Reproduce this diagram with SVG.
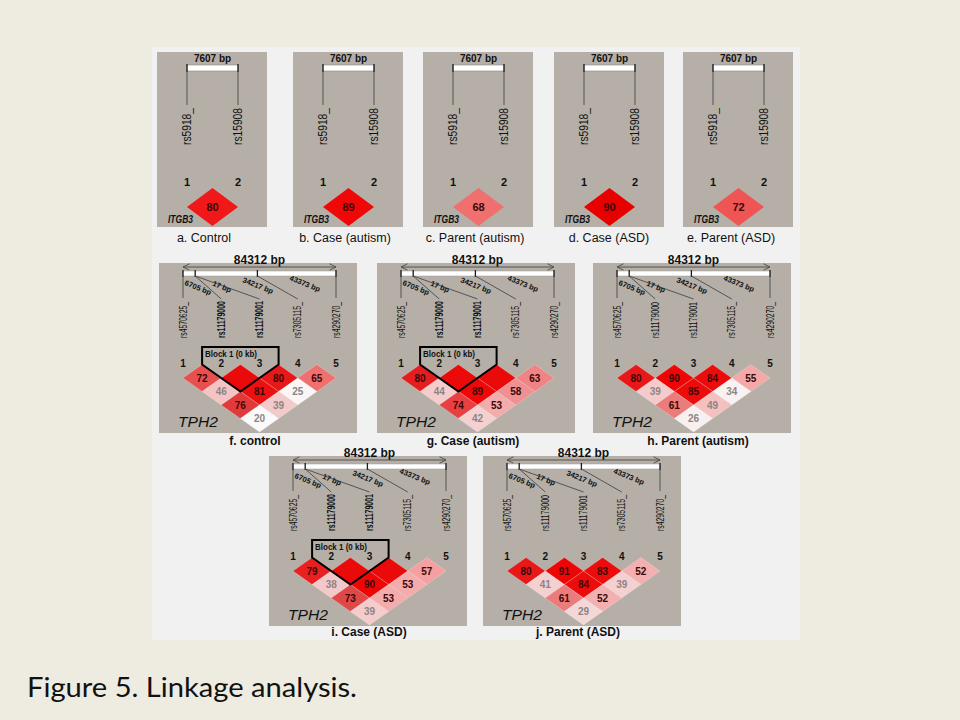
<svg xmlns="http://www.w3.org/2000/svg" xmlns:xlink="http://www.w3.org/1999/xlink" width="960" height="720" viewBox="0 0 960 720">
<style>
.pan{fill:#B5AFA7}
.t{font-family:"Liberation Sans",Arial,sans-serif;fill:#111}
.lb1{font-size:12.5px;text-anchor:middle}
.lb2{font-size:12px;font-weight:bold;text-anchor:middle}
.bp{font-size:10px;font-weight:bold;text-anchor:middle}
.bp2{font-size:12px;font-weight:bold;text-anchor:middle}
.rs{font-size:12px}
.rs2{font-size:10px}
.b{font-weight:bold}
.num{font-size:11px;font-weight:bold;text-anchor:middle}
.num2{font-size:10px;font-weight:bold;text-anchor:middle}
.v{font-size:10px;font-weight:bold;text-anchor:middle}
.v1{font-size:11px;font-weight:bold;text-anchor:middle}
.vd{fill:#3a0808}
.vl{fill:#8c8484}
.dist{font-size:7.5px;font-weight:bold;text-anchor:middle}
.gene{font-style:italic}
.ln{stroke:#4a4a4a;stroke-width:0.9;fill:none}
.tick{stroke:#1a1a1a;stroke-width:1.3}
.blk{fill:none;stroke:#000;stroke-width:2;stroke-linejoin:miter}
.dm{stroke:#ffffff;stroke-opacity:0.35;stroke-width:0.6}
</style>
<defs>
<path id="dm" d="M-19.125 0L0 -13.5L19.125 0L0 13.5Z"/>
<g id="itgbase">
<rect class="pan" width="110" height="175"/>
<text class="t bp" x="55.5" y="10">7607 bp</text>
<rect x="30" y="13" width="51" height="6" fill="#fff" stroke="#888" stroke-width="0.6"/>
<path d="M30 12V20M81 12V20" class="tick" stroke-width="1.6"/>
<path d="M30 20V53M81 20V53" class="ln"/>
<text transform="translate(34.3,93) rotate(-90)" class="t rs" textLength="37" lengthAdjust="spacingAndGlyphs">rs5918_</text>
<text transform="translate(85.3,93) rotate(-90)" class="t rs" textLength="37" lengthAdjust="spacingAndGlyphs">rs15908</text>
<text class="t num" x="30" y="134">1</text>
<text class="t num" x="81" y="134">2</text>
<text class="t gene b" x="11" y="171" font-size="10" textLength="25" lengthAdjust="spacingAndGlyphs">ITGB3</text>
</g>
<g id="tphbase">
<rect class="pan" width="198" height="170"/>
<text class="t bp2" x="100.5" y="1">84312 bp</text>
<path d="M24 4H177M30.5 0.8L24 4L30.5 7.2M170.5 0.8L177 4L170.5 7.2" class="ln" stroke="#333"/>
<rect x="24" y="8" width="153" height="5" fill="#fff" stroke="#9a9a9a" stroke-width="0.5"/>
<path d="M24 7V14M36.2 7V14M98.4 7V14M177 7V14" class="tick"/>
<path d="M24 13V35M36.2 13L62.25 36M36.2 13L100.5 36M98.4 13L138.75 36M177 13V35" class="ln"/>
<text class="t dist" transform="translate(38,27) rotate(22)">6705 bp</text>
<text class="t dist" transform="translate(62,26) rotate(22)">17 bp</text>
<text class="t dist" transform="translate(98,25) rotate(22)">34217 bp</text>
<text class="t dist" transform="translate(145,23) rotate(22)">43373 bp</text>
<text class="t num2" x="24" y="104">1</text>
<text class="t num2" x="62.25" y="104">2</text>
<text class="t num2" x="100.5" y="104">3</text>
<text class="t num2" x="138.75" y="104">4</text>
<text class="t num2" x="177" y="104">5</text>
<text class="t gene" x="19" y="164" font-size="15" textLength="40" lengthAdjust="spacingAndGlyphs">TPH2</text>
</g>
<g id="rsbold">
<text transform="translate(27.6,75) rotate(-90)" class="t rs2" textLength="36" lengthAdjust="spacingAndGlyphs">rs4570625_</text>
<text transform="translate(65.85,75) rotate(-90)" class="t rs2 b" textLength="37" lengthAdjust="spacingAndGlyphs">rs11179000</text>
<text transform="translate(104.1,75) rotate(-90)" class="t rs2 b" textLength="37" lengthAdjust="spacingAndGlyphs">rs11179001</text>
<text transform="translate(142.35,75) rotate(-90)" class="t rs2" textLength="36" lengthAdjust="spacingAndGlyphs">rs7305115_</text>
<text transform="translate(180.6,75) rotate(-90)" class="t rs2" textLength="36" lengthAdjust="spacingAndGlyphs">rs4290270_</text>
</g>
<g id="rsplain">
<text transform="translate(27.6,75) rotate(-90)" class="t rs2" textLength="36" lengthAdjust="spacingAndGlyphs">rs4570625_</text>
<text transform="translate(65.85,75) rotate(-90)" class="t rs2" textLength="36" lengthAdjust="spacingAndGlyphs">rs11179000</text>
<text transform="translate(104.1,75) rotate(-90)" class="t rs2" textLength="36" lengthAdjust="spacingAndGlyphs">rs11179001</text>
<text transform="translate(142.35,75) rotate(-90)" class="t rs2" textLength="36" lengthAdjust="spacingAndGlyphs">rs7305115_</text>
<text transform="translate(180.6,75) rotate(-90)" class="t rs2" textLength="36" lengthAdjust="spacingAndGlyphs">rs4290270_</text>
</g>
<g id="block">
<path class="blk" d="M43.1 101.5V84H119.6V101.5L81.4 128.5Z"/>
<text class="t b" x="46" y="93.5" font-size="9.5" textLength="52" lengthAdjust="spacingAndGlyphs">Block 1 (0 kb)</text>
</g>
</defs>

<rect width="960" height="720" fill="#EEEBE1"/>
<rect x="152" y="47" width="648" height="593" fill="#F1F1F1"/>

<!-- ITGB3 panels -->
<g id="panel-a" transform="translate(157,52)">
<use xlink:href="#itgbase"/>
<path d="M30 155L55.5 136L81 155L55.5 174Z" fill="#F01818"/>
<text class="t v1 vd" x="55.5" y="159">80</text>
<text class="t lb1" x="47" y="190">a. Control</text>
</g>
<g id="panel-b" transform="translate(293,52)">
<use xlink:href="#itgbase"/>
<path d="M30 155L55.5 136L81 155L55.5 174Z" fill="#F00808"/>
<text class="t v1 vd" x="55.5" y="159">89</text>
<text class="t lb1" x="52" y="190">b. Case (autism)</text>
</g>
<g id="panel-c" transform="translate(423,52)">
<use xlink:href="#itgbase"/>
<path d="M30 155L55.5 136L81 155L55.5 174Z" fill="#F07070"/>
<text class="t v1 vd" x="55.5" y="159">68</text>
<text class="t lb1" x="52" y="190">c. Parent (autism)</text>
</g>
<g id="panel-d" transform="translate(554,52)">
<use xlink:href="#itgbase"/>
<path d="M30 155L55.5 136L81 155L55.5 174Z" fill="#E80000"/>
<text class="t v1 vd" x="55.5" y="159">90</text>
<text class="t lb1" x="55" y="190">d. Case (ASD)</text>
</g>
<g id="panel-e" transform="translate(683,52)">
<use xlink:href="#itgbase"/>
<path d="M30 155L55.5 136L81 155L55.5 174Z" fill="#F05555"/>
<text class="t v1 vd" x="55.5" y="159">72</text>
<text class="t lb1" x="48" y="190">e. Parent (ASD)</text>
</g>

<!-- TPH2 panel f -->
<g id="panel-f" transform="translate(159,263)">
<use xlink:href="#tphbase"/>
<use xlink:href="#rsbold"/>
<use xlink:href="#dm" class="dm" x="43.125" y="115" fill="#E85050"/>
<use xlink:href="#dm" class="dm" x="81.375" y="115" fill="#EA0A0A"/>
<use xlink:href="#dm" class="dm" x="119.625" y="115" fill="#E81818"/>
<use xlink:href="#dm" class="dm" x="157.875" y="115" fill="#F07070"/>
<use xlink:href="#dm" class="dm" x="62.25" y="128.5" fill="#F4C4C4"/>
<use xlink:href="#dm" class="dm" x="100.5" y="128.5" fill="#EC1010"/>
<use xlink:href="#dm" class="dm" x="138.75" y="128.5" fill="#FAF6F6"/>
<use xlink:href="#dm" class="dm" x="81.375" y="142" fill="#E23A3A"/>
<use xlink:href="#dm" class="dm" x="119.625" y="142" fill="#F2CACA"/>
<use xlink:href="#dm" class="dm" x="100.5" y="155.5" fill="#FAFAFA"/>
<text class="t v vd" x="43.125" y="118.5">72</text>
<text class="t v vd" x="119.625" y="118.5">80</text>
<text class="t v vd" x="157.875" y="118.5">65</text>
<text class="t v vl" x="62.25" y="132">46</text>
<text class="t v vd" x="100.5" y="132">81</text>
<text class="t v vl" x="138.75" y="132">25</text>
<text class="t v vd" x="81.375" y="145.5">76</text>
<text class="t v vl" x="119.625" y="145.5">39</text>
<text class="t v vl" x="100.5" y="159">20</text>
<use xlink:href="#block"/>
<text class="t lb2" x="96" y="182">f. control</text>
</g>

<!-- TPH2 panel g -->
<g id="panel-g" transform="translate(377,263)">
<use xlink:href="#tphbase"/>
<use xlink:href="#rsbold"/>
<use xlink:href="#dm" class="dm" x="43.125" y="115" fill="#E41E1E"/>
<use xlink:href="#dm" class="dm" x="81.375" y="115" fill="#EA0A0A"/>
<use xlink:href="#dm" class="dm" x="119.625" y="115" fill="#EA0A0A"/>
<use xlink:href="#dm" class="dm" x="157.875" y="115" fill="#F08484"/>
<use xlink:href="#dm" class="dm" x="62.25" y="128.5" fill="#F4CCCC"/>
<use xlink:href="#dm" class="dm" x="100.5" y="128.5" fill="#EE0808"/>
<use xlink:href="#dm" class="dm" x="138.75" y="128.5" fill="#F09090"/>
<use xlink:href="#dm" class="dm" x="81.375" y="142" fill="#E84040"/>
<use xlink:href="#dm" class="dm" x="119.625" y="142" fill="#F4ABAB"/>
<use xlink:href="#dm" class="dm" x="100.5" y="155.5" fill="#F4D0D0"/>
<text class="t v vd" x="43.125" y="118.5">80</text>
<text class="t v vd" x="157.875" y="118.5">63</text>
<text class="t v vl" x="62.25" y="132">44</text>
<text class="t v vd" x="100.5" y="132">89</text>
<text class="t v vd" x="138.75" y="132">58</text>
<text class="t v vd" x="81.375" y="145.5">74</text>
<text class="t v vd" x="119.625" y="145.5">53</text>
<text class="t v vl" x="100.5" y="159">42</text>
<use xlink:href="#block"/>
<text class="t lb2" x="96" y="182">g. Case (autism)</text>
</g>

<!-- TPH2 panel h -->
<g id="panel-h" transform="translate(593,263)">
<use xlink:href="#tphbase"/>
<use xlink:href="#rsplain"/>
<use xlink:href="#dm" class="dm" x="43.125" y="115" fill="#E81818"/>
<use xlink:href="#dm" class="dm" x="81.375" y="115" fill="#EE0606"/>
<use xlink:href="#dm" class="dm" x="119.625" y="115" fill="#EC0C0C"/>
<use xlink:href="#dm" class="dm" x="157.875" y="115" fill="#F4A8A8"/>
<use xlink:href="#dm" class="dm" x="62.25" y="128.5" fill="#F4CACA"/>
<use xlink:href="#dm" class="dm" x="100.5" y="128.5" fill="#EC0C0C"/>
<use xlink:href="#dm" class="dm" x="138.75" y="128.5" fill="#F8F2F2"/>
<use xlink:href="#dm" class="dm" x="81.375" y="142" fill="#EC7C7C"/>
<use xlink:href="#dm" class="dm" x="119.625" y="142" fill="#F4C0C0"/>
<use xlink:href="#dm" class="dm" x="100.5" y="155.5" fill="#F8F0F0"/>
<text class="t v vd" x="43.125" y="118.5">80</text>
<text class="t v vd" x="81.375" y="118.5">90</text>
<text class="t v vd" x="119.625" y="118.5">84</text>
<text class="t v vd" x="157.875" y="118.5">55</text>
<text class="t v vl" x="62.25" y="132">39</text>
<text class="t v vd" x="100.5" y="132">85</text>
<text class="t v vl" x="138.75" y="132">34</text>
<text class="t v vd" x="81.375" y="145.5">61</text>
<text class="t v vl" x="119.625" y="145.5">49</text>
<text class="t v vl" x="100.5" y="159">26</text>
<text class="t lb2" x="105" y="182">h. Parent (autism)</text>
</g>

<!-- TPH2 panel i -->
<g id="panel-i" transform="translate(269,456)">
<use xlink:href="#tphbase"/>
<use xlink:href="#rsbold"/>
<use xlink:href="#dm" class="dm" x="43.125" y="115" fill="#E82020"/>
<use xlink:href="#dm" class="dm" x="81.375" y="115" fill="#EA0A0A"/>
<use xlink:href="#dm" class="dm" x="119.625" y="115" fill="#EA0A0A"/>
<use xlink:href="#dm" class="dm" x="157.875" y="115" fill="#F4A0A0"/>
<use xlink:href="#dm" class="dm" x="62.25" y="128.5" fill="#F4C8C8"/>
<use xlink:href="#dm" class="dm" x="100.5" y="128.5" fill="#EE0606"/>
<use xlink:href="#dm" class="dm" x="138.75" y="128.5" fill="#F4ABAB"/>
<use xlink:href="#dm" class="dm" x="81.375" y="142" fill="#E04848"/>
<use xlink:href="#dm" class="dm" x="119.625" y="142" fill="#F4ABAB"/>
<use xlink:href="#dm" class="dm" x="100.5" y="155.5" fill="#F4CCCC"/>
<text class="t v vd" x="43.125" y="118.5">79</text>
<text class="t v vd" x="157.875" y="118.5">57</text>
<text class="t v vl" x="62.25" y="132">38</text>
<text class="t v vd" x="100.5" y="132">90</text>
<text class="t v vd" x="138.75" y="132">53</text>
<text class="t v vd" x="81.375" y="145.5">73</text>
<text class="t v vd" x="119.625" y="145.5">53</text>
<text class="t v vl" x="100.5" y="159">39</text>
<use xlink:href="#block"/>
<text class="t lb2" x="100" y="180">i. Case (ASD)</text>
</g>

<!-- TPH2 panel j -->
<g id="panel-j" transform="translate(483,456)">
<use xlink:href="#tphbase"/>
<use xlink:href="#rsplain"/>
<use xlink:href="#dm" class="dm" x="43.125" y="115" fill="#E81818"/>
<use xlink:href="#dm" class="dm" x="81.375" y="115" fill="#EE0606"/>
<use xlink:href="#dm" class="dm" x="119.625" y="115" fill="#EC0C0C"/>
<use xlink:href="#dm" class="dm" x="157.875" y="115" fill="#F4B0B0"/>
<use xlink:href="#dm" class="dm" x="62.25" y="128.5" fill="#F4D0D0"/>
<use xlink:href="#dm" class="dm" x="100.5" y="128.5" fill="#EC0C0C"/>
<use xlink:href="#dm" class="dm" x="138.75" y="128.5" fill="#F4D0D0"/>
<use xlink:href="#dm" class="dm" x="81.375" y="142" fill="#EC7C7C"/>
<use xlink:href="#dm" class="dm" x="119.625" y="142" fill="#F4B0B0"/>
<use xlink:href="#dm" class="dm" x="100.5" y="155.5" fill="#F4D8D8"/>
<text class="t v vd" x="43.125" y="118.5">80</text>
<text class="t v vd" x="81.375" y="118.5">91</text>
<text class="t v vd" x="119.625" y="118.5">83</text>
<text class="t v vd" x="157.875" y="118.5">52</text>
<text class="t v vl" x="62.25" y="132">41</text>
<text class="t v vd" x="100.5" y="132">84</text>
<text class="t v vl" x="138.75" y="132">39</text>
<text class="t v vd" x="81.375" y="145.5">61</text>
<text class="t v vd" x="119.625" y="145.5">52</text>
<text class="t v vl" x="100.5" y="159">29</text>
<text class="t lb2" x="95" y="180">j. Parent (ASD)</text>
</g>

<g id="connectors"></g>

<text x="27" y="697" font-family="Lato,'Open Sans',sans-serif" font-size="27" fill="#111" textLength="330" lengthAdjust="spacingAndGlyphs">Figure 5. Linkage analysis.</text>
</svg>
